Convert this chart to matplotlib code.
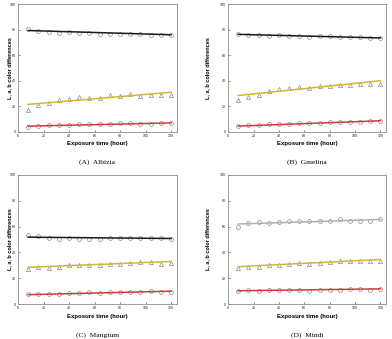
import matplotlib
matplotlib.use("Agg")
import matplotlib.pyplot as plt

# exposure time (hour)
hours = [8, 16, 24, 32, 40, 48, 56, 64, 72, 80, 88, 96, 104, 112, 120]

# Albizia
albizia_L = [80.5, 79, 78.5, 77.5, 78, 77.5, 77, 76.5, 76.5, 76.5, 76.5, 76.5, 76, 75.5, 76]
albizia_b = [17, 21, 22.5, 25, 25.5, 27, 26.5, 26.5, 28.5, 28, 29.5, 28, 29, 29, 28.5]
albizia_a = [4, 4.5, 5, 5.5, 5.5, 6, 5.8, 6, 6, 6.8, 6.8, 6.5, 6.5, 7.2, 6.8]
albizia_fit = {"L": (79.3, 76.0), "b": (21.5, 31.0), "a": (4.5, 7.0)}

# Gmelina
gmelina_L = [76.5, 76, 75.5, 75, 75.5, 75, 75, 74.5, 75, 75, 74, 74, 74, 73.5, 73.5]
gmelina_b = [25, 27, 29, 32, 33.5, 34, 35, 34, 36, 36, 37, 36.5, 37.5, 37.5, 37.5]
gmelina_a = [4.5, 5, 5.5, 6, 6, 6.5, 7, 7, 7, 7.5, 7.5, 8, 8, 8.5, 8.5]
gmelina_fit = {"L": (76.3, 73.5), "b": (28.5, 40.0), "a": (4.5, 8.7)}

# Mangium
mangium_L = [53.5, 52.5, 51.5, 50.5, 51, 50.5, 50.5, 50.5, 51.5, 51, 51, 51.5, 51.5, 51, 50.5]
mangium_b = [27, 28.5, 28, 29, 30.5, 30.5, 30.5, 30, 31, 31, 31.5, 32.5, 32.5, 31, 31.5]
mangium_a = [8, 7.5, 7.5, 7.5, 8.5, 8.5, 9, 8.5, 9, 9.5, 9.5, 9.5, 10, 9.5, 9.5]
mangium_fit = {"L": (51.8, 50.8), "b": (28.5, 33.0), "a": (7.3, 10.0)}

# Mindi
mindi_L = [60, 62.5, 63.5, 62.5, 63.5, 64, 64, 64.5, 64.5, 64.5, 65.5, 64.5, 64.5, 64.5, 65.5]
mindi_b = [28, 29, 28.5, 30, 30.5, 31, 31.5, 31, 31.5, 32.5, 33.5, 33, 33.5, 33, 33.5]
mindi_a = [10, 11, 10.5, 11, 11, 11, 11, 10.5, 11, 11, 11, 11.5, 11.5, 11, 11.5]
mindi_fit = {"L": (62.0, 65.5), "b": (29.0, 34.5), "a": (10.3, 11.8)}

captions = ["(A)  Albizia", "(B)  Gmelina", "(C)  Mangium", "(D)  Mindi"]
x_ticks = [0, 20, 40, 60, 80, 100, 120]
y_ticks = [0, 20, 40, 60, 80, 100]

panels = [
    (albizia_L, albizia_b, albizia_a, albizia_fit, "#1a1a1a"),
    (gmelina_L, gmelina_b, gmelina_a, gmelina_fit, "#1a1a1a"),
    (mangium_L, mangium_b, mangium_a, mangium_fit, "#1a1a1a"),
    (mindi_L, mindi_b, mindi_a, mindi_fit, "#b0b0b0"),
]

# axes boxes in figure fractions [left, bottom, width, height]
boxes = [
    [0.046, 0.611, 0.405, 0.377],
    [0.582, 0.611, 0.403, 0.377],
    [0.046, 0.103, 0.405, 0.381],
    [0.582, 0.103, 0.403, 0.381],
]
ylabel_x = [-0.038, -0.114, -0.038, -0.114]

plt.rcParams["font.family"] = ["Liberation Sans", "DejaVu Sans"]
fig = plt.figure(figsize=(3.92, 3.39), dpi=100)

mk = dict(markerfacecolor="none", markeredgecolor="#8c8c8c",
          markeredgewidth=0.5, linestyle="none")

for i, (L, b, a, fit, lcol) in enumerate(panels):
    ax = fig.add_axes(boxes[i])
    ends = [hours[0], hours[-1]]
    ax.plot(hours, L, marker="o", markersize=2.8, **mk)
    ax.plot(hours, b, marker="^", markersize=3.0, **mk)
    ax.plot(hours, a, marker="o", markersize=2.8, **mk)
    ax.plot(ends, fit["L"], color=lcol, lw=1.1)
    ax.plot(ends, fit["b"], color="#d2b735", lw=1.1)
    ax.plot(ends, fit["a"], color="#d03a3a", lw=1.1)

    ax.set_xlim(0, 124.5)
    ax.set_ylim(0, 100)
    ax.set_xticks(x_ticks)
    ax.set_yticks(y_ticks)
    ax.tick_params(direction="in", length=1.5, width=0.5, labelsize=2.6,
                   pad=1.5, colors="#555555", labelcolor="#222222")
    for sp in ax.spines.values():
        sp.set_color("#8c8c8c")
        sp.set_linewidth(0.6)

    ax.set_xlabel("Exposure time (hour)", fontsize=4.3, fontweight="bold",
                  labelpad=2.5)
    ax.set_ylabel("L, a, b color differences", fontsize=4.0,
                  fontweight="bold")
    ax.yaxis.set_label_coords(ylabel_x[i], 0.5)

    ax.text(0.5, -0.215, captions[i], transform=ax.transAxes, ha="center",
            va="top", fontsize=5.4, family=["Liberation Serif", "DejaVu Serif"])

fig.savefig("out.png", dpi=100)
